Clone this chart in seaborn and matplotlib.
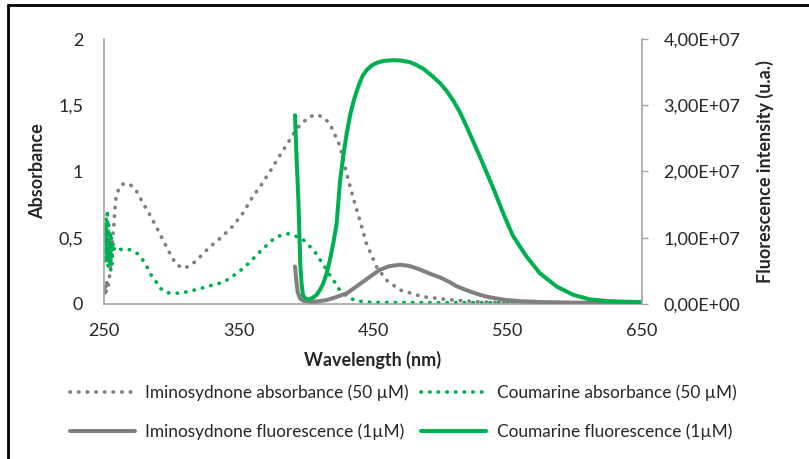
import matplotlib
matplotlib.use("Agg")
import matplotlib.pyplot as plt
import matplotlib.ticker as mticker
from matplotlib.lines import Line2D
import seaborn as sns

# style + police (pas de Calibri -> Lato)
sns.set_style("white")
plt.rcParams['font.family'] = ['Lato', 'DejaVu Sans']

GREY = "#808080"
GREEN = "#00b050"
AXIS = "#a6a6a6"

# absorbance iminosydnone (50 µM)
imino_abs_nm = [250, 250.5, 251, 251.5, 252, 253, 254, 255, 255.5, 256.5, 257.5, 258, 259, 261, 263,
                265.6, 268, 271.3, 275, 278, 284, 290, 298, 303.5, 309, 314, 319, 327.5, 337.5, 346,
                353.6, 360, 367, 374, 380, 387, 393, 402, 408, 413, 418, 425.5, 430, 435, 440, 445,
                452.7, 460, 470, 487, 509, 530, 560, 600, 650]
imino_abs = [0.1, 0.06, 0.14, 0.08, 0.16, 0.12, 0.2, 0.3, 0.4, 0.51, 0.61, 0.71, 0.81, 0.87, 0.9,
             0.91, 0.91, 0.886, 0.84, 0.78, 0.675, 0.56, 0.40, 0.30, 0.268, 0.29, 0.33, 0.42, 0.506, 0.59,
             0.69, 0.80, 0.90, 1.01, 1.11, 1.22, 1.32, 1.41, 1.43, 1.41, 1.36, 1.19, 1.0, 0.81, 0.64, 0.46,
             0.28, 0.18, 0.106, 0.055, 0.03, 0.015, 0.008, 0.004, 0.002]

# absorbance coumarine (50 µM)
coum_abs_nm = [250, 250.5, 251, 251.5, 252, 252.5, 253, 253.5, 254, 254.5, 255, 255.5, 256, 256.5, 257,
               258, 263, 269, 275, 279, 282, 285, 288, 291.6, 296.6, 303, 309, 315, 321, 326, 332.5,
               338.7, 343.7, 348.7, 353.6, 357.8, 366.5, 376, 381, 387, 393, 398, 403, 407, 410.6, 414,
               416.8, 420.5, 424, 431.6, 438, 450, 500, 550, 600, 650]
coum_abs = [0.35, 0.6, 0.3, 0.65, 0.33, 0.71, 0.28, 0.6, 0.3, 0.55, 0.25, 0.5, 0.3, 0.47, 0.4,
            0.43, 0.41, 0.41, 0.38, 0.33, 0.28, 0.22, 0.18, 0.12, 0.086, 0.08, 0.086, 0.10, 0.114, 0.13, 0.147,
            0.165, 0.195, 0.232, 0.27, 0.31, 0.40, 0.49, 0.516, 0.53, 0.51, 0.486, 0.435, 0.39, 0.334, 0.283,
            0.233, 0.182, 0.12, 0.05, 0.023, 0.012, 0.01, 0.01, 0.01, 0.01]

# fluorescence iminosydnone (1 µM)
imino_fl_nm = [392, 393, 394, 395.7, 398, 402, 405.6, 410, 415.6, 422, 430.5, 436, 442.8, 449, 455, 462,
               470, 477, 485, 492, 500, 507, 512, 518, 524.6, 530, 537, 549, 560, 574, 599, 625, 650]
imino_fl = [5.66e6, 3.5e6, 1.8e6, 0.87e6, 0.5e6, 0.38e6, 0.35e6, 0.42e6, 0.6e6, 1.0e6, 1.62e6, 2.4e6,
            3.39e6, 4.3e6, 5.16e6, 5.7e6, 5.92e6, 5.75e6, 5.2e6, 4.6e6, 4.0e6, 3.3e6, 2.7e6, 2.2e6,
            1.72e6, 1.35e6, 1.0e6, 0.6e6, 0.42e6, 0.3e6, 0.2e6, 0.17e6, 0.15e6]

# fluorescence coumarine (1 µM)
coum_fl_nm = [392, 393, 394.5, 396, 397, 398, 400, 402, 405, 408, 410.5, 413, 415.5, 418, 420.5, 423,
              425.5, 428, 430.4, 433, 435.4, 438, 440.3, 442.5, 445.3, 449, 452.7, 458, 465, 471, 477.5,
              482, 487.4, 493, 500, 505, 510, 515, 520, 525, 530, 535, 540, 547, 554, 564, 574, 586.6,
              599, 611, 623.7, 636, 650]
coum_fl = [2.85e7, 2.3e7, 1.58e7, 5.7e6, 2.8e6, 1.3e6, 0.8e6, 0.7e6, 0.9e6, 1.37e6, 2.1e6, 3.1e6,
           4.6e6, 6.7e6, 9.2e6, 1.22e7, 1.86e7, 2.25e7, 2.57e7, 2.85e7, 3.05e7, 3.22e7, 3.35e7,
           3.45e7, 3.53e7, 3.6e7, 3.64e7, 3.67e7, 3.68e7, 3.675e7, 3.65e7, 3.61e7, 3.55e7, 3.46e7,
           3.33e7, 3.21e7, 3.06e7, 2.88e7, 2.66e7, 2.43e7, 2.2e7, 1.96e7, 1.72e7, 1.36e7, 1.03e7,
           7.2e6, 4.66e6, 2.63e6, 1.37e6, 0.71e6, 0.45e6, 0.35e6, 0.3e6]

labels = ["Iminosydnone absorbance (50 µM)", "Coumarine absorbance (50 µM)",
          "Iminosydnone fluorescence (1µM)", "Coumarine fluorescence (1µM)"]

W, H = 809, 459
fig = plt.figure(figsize=(W / 100, H / 100), dpi=100)
ax = fig.add_axes([104 / W, 1 - 304 / H, (642 - 104) / W, (304 - 39) / H])
ax2 = ax.twinx()

dot = dict(lw=2.7, linestyle=(0, (0.1, 2.2)), dash_capstyle='round', estimator=None, sort=False)
sns.lineplot(x=imino_abs_nm, y=imino_abs, ax=ax, color=GREY, **dot)
sns.lineplot(x=coum_abs_nm, y=coum_abs, ax=ax, color=GREEN, **dot)
sns.lineplot(x=imino_fl_nm, y=imino_fl, ax=ax2, color=GREY, lw=2.9, estimator=None, sort=False)
sns.lineplot(x=coum_fl_nm, y=coum_fl, ax=ax2, color=GREEN, lw=2.9, estimator=None, sort=False)

ax.set_xlim(250, 650)
ax.set_ylim(0, 2)
ax2.set_ylim(0, 4e7)
ax.set_xticks([250, 350, 450, 550, 650])
ax.set_yticks([0, 0.5, 1, 1.5, 2])
ax2.set_yticks([0, 1e7, 2e7, 3e7, 4e7])
ax.yaxis.set_major_formatter(mticker.FuncFormatter(lambda v, p: f"{v:g}".replace('.', ',')))
ax2.yaxis.set_major_formatter(mticker.FuncFormatter(lambda v, p: f"{v:.2E}".replace('.', ',')))

for a in (ax, ax2):
    for s in a.spines.values():
        s.set_visible(False)
        s.set_color(AXIS)
        s.set_linewidth(1.2)
ax.spines['left'].set_visible(True)
ax.spines['bottom'].set_visible(True)
ax2.spines['right'].set_visible(True)

ax.tick_params(axis='y', length=0, pad=15, labelsize=13)
ax.tick_params(axis='x', length=0, pad=14, labelsize=13)
ax2.tick_params(axis='y', length=4.3, width=1.0, color=AXIS, pad=11, labelsize=13)

ax.set_xlabel("Wavelength (nm)", fontsize=13, fontweight='bold', labelpad=8)
ax.set_ylabel("Absorbance", fontsize=13, fontweight='bold', labelpad=9)
ax2.set_ylabel("Fluorescence intensity (u.a.)", fontsize=13, fontweight='bold', labelpad=11)

handles = [ax.lines[0], ax2.lines[0], ax.lines[1], ax2.lines[1]]
fig.legend(handles=handles, labels=[labels[0], labels[2], labels[1], labels[3]], ncol=2,
           loc='center', bbox_to_anchor=(403 / W, 1 - 412 / H), frameon=False, fontsize=12.4,
           handlelength=3.8, handletextpad=0.6, columnspacing=0.7, labelspacing=1.3)

# bordure du graphique (coin haut-gauche)
fig.add_artist(Line2D([8 / W, 8 / W], [0, 1 - 5 / H], color='black', lw=2, transform=fig.transFigure))
fig.add_artist(Line2D([8 / W, 1], [1 - 5 / H, 1 - 5 / H], color='black', lw=2, transform=fig.transFigure))

fig.savefig("out.png", dpi=100)
